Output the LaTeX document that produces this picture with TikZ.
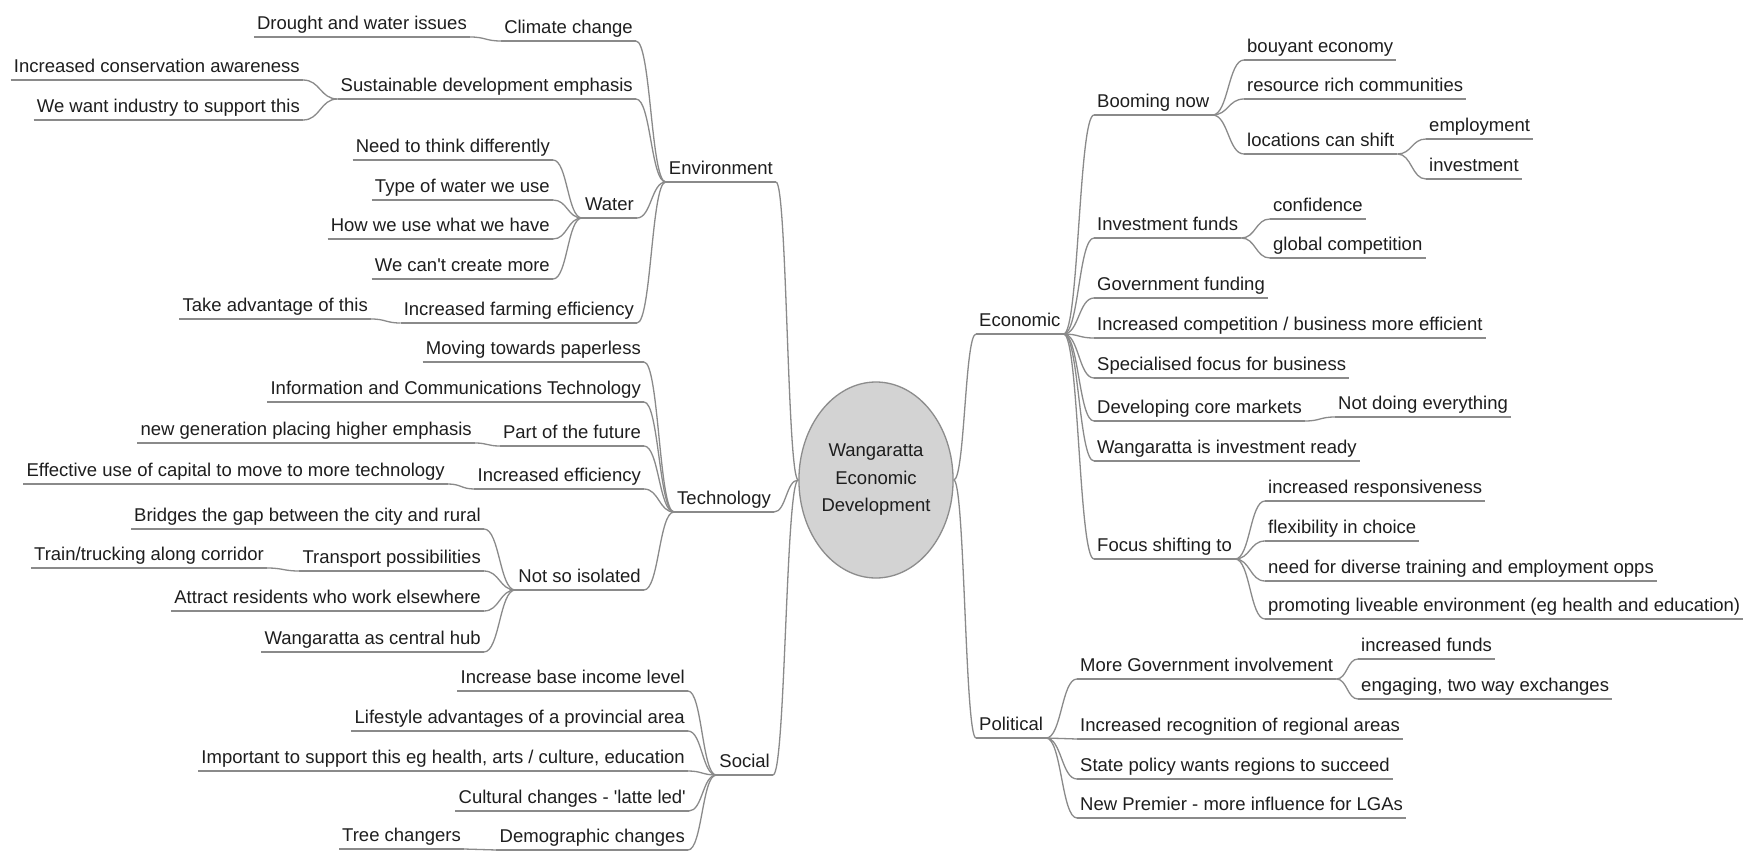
\documentclass[tikz,border=0pt]{standalone}
\usepackage{fontspec}
\setmainfont{Liberation Sans}[Ligatures=TeXOff]
\usetikzlibrary{calc,shapes.geometric}
\definecolor{inkc}{HTML}{1E1E1E}
\definecolor{wirec}{HTML}{8A8A8A}
\definecolor{hubfill}{HTML}{D3D3D3}
\definecolor{hubline}{HTML}{8C8C8C}
\begin{document}
\begin{tikzpicture}[x=1pt,y=-1pt,
  topic/.style={font=\fontsize{18.5}{22}\selectfont, text=inkc, inner xsep=3pt,
    inner ysep=2.5pt, text height=13.5pt, text depth=4.5pt},
  lt/.style={topic, anchor=south east},
  rt/.style={topic, anchor=south west},
  wire/.style={draw=wirec, line width=1.3pt},
  link/.style={wire, to path={let \p1=(\tikztostart), \p2=(\tikztotarget) in
    .. controls ({0.5*\x1+0.5*\x2},\y1) and ({0.5*\x1+0.5*\x2},\y2) .. (\tikztotarget)}},
  hub/.style={ellipse, draw=hubline, line width=1.3pt, fill=hubfill, text=inkc,
    minimum width=141pt, minimum height=196pt, inner sep=0pt, align=center,
    font=\fontsize{18.5}{27.5}\selectfont}]
\fill[white] (0,0) rectangle (1749,851);
\useasboundingbox (0,0) rectangle (1749,851);

% ---- Environment ----
\node[lt] (env)     at (776,182) {Environment};
\node[lt] (clim)    at (636,41)  {Climate change};
\node[lt] (drought) at (470,37)  {Drought and water issues};
\node[lt] (sust)    at (636,99)  {Sustainable development emphasis};
\node[lt] (consv)   at (303,80)  {Increased conservation awareness};
\node[lt] (indus)   at (303,120) {We want industry to support this};
\node[lt] (water)   at (637,218) {Water};
\node[lt] (think)   at (553,160) {Need to think differently};
\node[lt] (wtype)   at (553,200) {Type of water we use};
\node[lt] (howuse)  at (553,239) {How we use what we have};
\node[lt] (cant)    at (553,279) {We can't create more};
\node[lt] (farm)    at (637,323) {Increased farming efficiency};
\node[lt] (take)    at (371,319) {Take advantage of this};

% ---- Technology ----
\node[lt] (tech)    at (774,512) {Technology};
\node[lt] (paper)   at (644,362) {Moving towards paperless};
\node[lt] (ict)     at (644,402) {Information and Communications Technology};
\node[lt] (future)  at (644,446) {Part of the future};
\node[lt] (newgen)  at (475,443) {new generation placing higher emphasis};
\node[lt] (eff)     at (644,489) {Increased efficiency};
\node[lt] (capital) at (448,484) {Effective use of capital to move to more technology};
\node[lt] (iso)     at (644,590) {Not so isolated};
\node[lt] (bridge)  at (484,529) {Bridges the gap between the city and rural};
\node[lt] (transp)  at (484,571) {Transport possibilities};
\node[lt] (train)   at (267,568) {Train/trucking along corridor};
\node[lt] (attract) at (484,611) {Attract residents who work elsewhere};
\node[lt] (hubc)    at (484,652) {Wangaratta as central hub};

% ---- Social ----
\node[lt] (social)  at (773,775) {Social};
\node[lt] (income)  at (688,691) {Increase base income level};
\node[lt] (life)    at (688,731) {Lifestyle advantages of a provincial area};
\node[lt] (support) at (688,771) {Important to support this eg health, arts / culture, education};
\node[lt] (culture) at (689,811) {Cultural changes - 'latte led'};
\node[lt] (demo)    at (688,850) {Demographic changes};
\node[lt] (tree)    at (464,849) {Tree changers};

% ---- Economic ----
\node[rt] (econ)    at (976,334)  {Economic};
\node[rt] (boom)    at (1094,115) {Booming now};
\node[rt] (bouy)    at (1244,60)  {bouyant economy};
\node[rt] (resrc)   at (1244,99)  {resource rich communities};
\node[rt] (loc)     at (1244,154) {locations can shift};
\node[rt] (employ)  at (1426,139) {employment};
\node[rt] (invest)  at (1426,179) {investment};
\node[rt] (funds)   at (1094,238) {Investment funds};
\node[rt] (conf)    at (1270,219) {confidence};
\node[rt] (global)  at (1270,258) {global competition};
\node[rt] (govf)    at (1094,298) {Government funding};
\node[rt] (compet)  at (1094,338) {Increased competition / business more efficient};
\node[rt] (spec)    at (1094,378) {Specialised focus for business};
\node[rt] (core)    at (1094,421) {Developing core markets};
\node[rt] (notdo)   at (1335,417) {Not doing everything};
\node[rt] (ready)   at (1094,461) {Wangaratta is investment ready};
\node[rt] (focus)   at (1094,559) {Focus shifting to};
\node[rt] (resp)    at (1265,501) {increased responsiveness};
\node[rt] (flex)    at (1265,541) {flexibility in choice};
\node[rt] (diverse) at (1265,581) {need for diverse training and employment opps};
\node[rt] (live)    at (1265,619) {promoting liveable environment (eg health and education)};

% ---- Political ----
\node[rt] (pol)     at (976,738)  {Political};
\node[rt] (moregov) at (1077,679) {More Government involvement};
\node[rt] (incf)    at (1358,659) {increased funds};
\node[rt] (engage)  at (1358,699) {engaging, two way exchanges};
\node[rt] (recog)   at (1077,739) {Increased recognition of regional areas};
\node[rt] (state)   at (1077,779) {State policy wants regions to succeed};
\node[rt] (premier) at (1077,818) {New Premier - more influence for LGAs};

% underlines beneath every topic
\foreach \n in {env,clim,drought,sust,consv,indus,water,think,wtype,howuse,cant,farm,take,
  tech,paper,ict,future,newgen,eff,capital,iso,bridge,transp,train,attract,hubc,
  social,income,life,support,culture,demo,tree,
  econ,boom,bouy,resrc,loc,employ,invest,funds,conf,global,govf,compet,spec,core,notdo,
  ready,focus,resp,flex,diverse,live,
  pol,moregov,incf,engage,recog,state,premier}
  \draw[wire] (\n.south west) -- (\n.south east);

% central topic
\node[hub] (c) at (876,480) {Wangaratta\\Economic\\Development};

% left-hand branches
\foreach \p/\k in {env/clim, env/sust, env/water, env/farm,
  clim/drought, sust/consv, sust/indus, water/think, water/wtype, water/howuse, water/cant,
  farm/take,
  tech/paper, tech/ict, tech/future, tech/eff, tech/iso,
  future/newgen, eff/capital, iso/bridge, iso/transp, iso/attract, iso/hubc, transp/train,
  social/income, social/life, social/support, social/culture, social/demo, demo/tree}
  \draw[link] (\p.south west) to (\k.south east);
\foreach \k in {env,tech,social}
  \draw[link] (c.west) to (\k.south east);

% right-hand branches
\foreach \p/\k in {econ/boom, econ/funds, econ/govf, econ/compet, econ/spec, econ/core,
  econ/ready, econ/focus,
  boom/bouy, boom/resrc, boom/loc, loc/employ, loc/invest, funds/conf, funds/global,
  core/notdo, focus/resp, focus/flex, focus/diverse, focus/live,
  pol/moregov, pol/recog, pol/state, pol/premier, moregov/incf, moregov/engage}
  \draw[link] (\p.south east) to (\k.south west);
\foreach \k in {econ,pol}
  \draw[link] (c.east) to (\k.south west);
\end{tikzpicture}
\end{document}
